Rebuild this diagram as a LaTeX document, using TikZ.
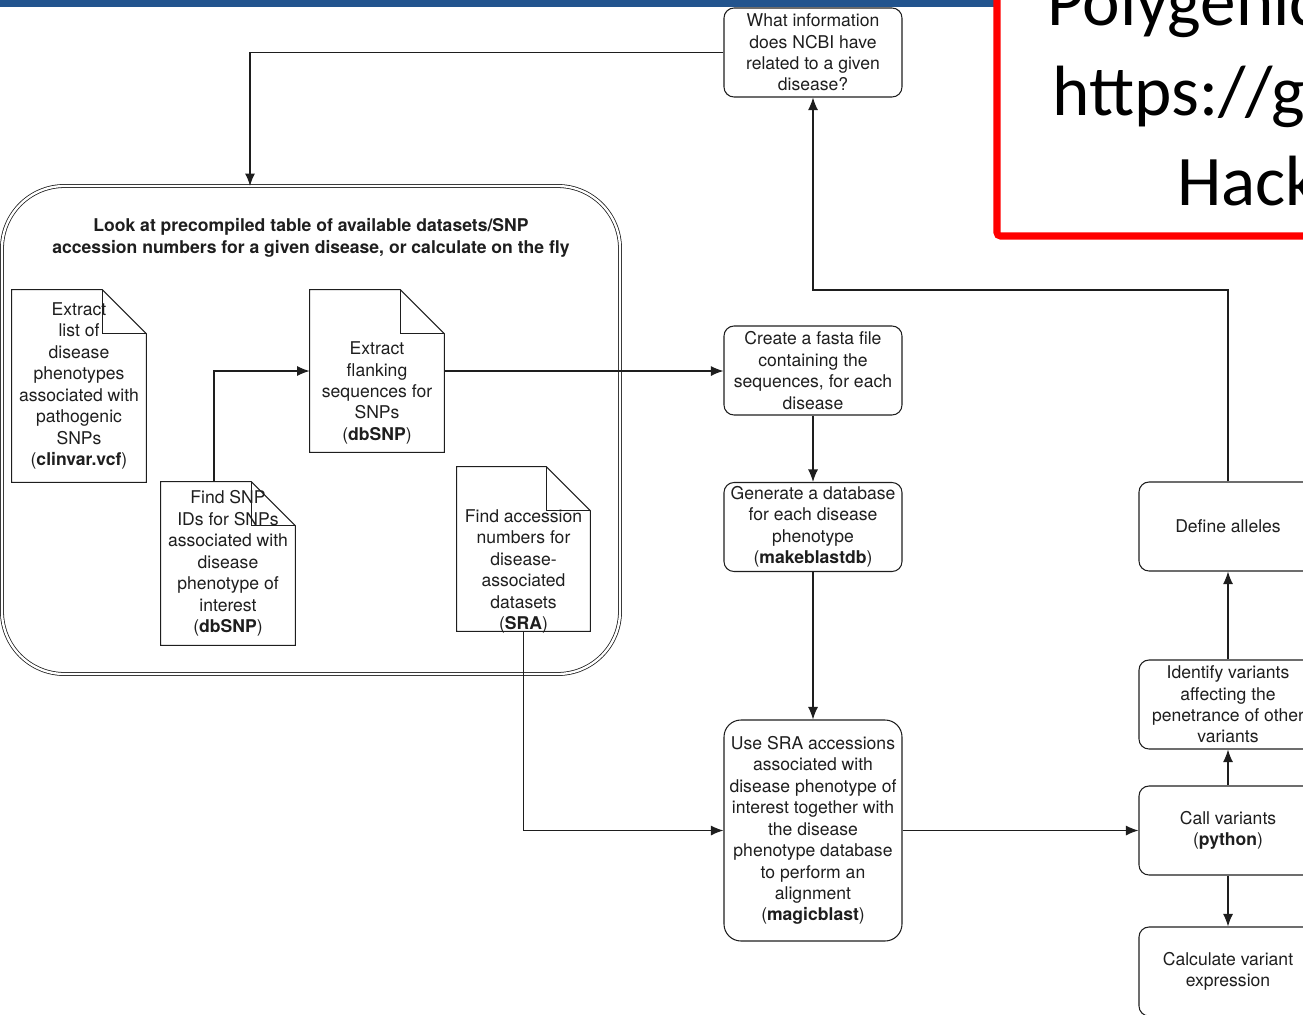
\documentclass[tikz,border=0pt]{standalone}
\usepackage{fontspec}
\setmainfont{TeX Gyre Heros}
\newfontfamily\slidefont{Carlito}
\usepackage{tikz}
\usetikzlibrary{arrows.meta,positioning}
\usepackage{xcolor}
\definecolor{slideblue}{RGB}{34,84,142}
\definecolor{ink}{RGB}{30,30,30}

\tikzset{
  flowbox/.style={draw=ink, line width=0.6pt, rounded corners=0.2cm, minimum width=3.56cm, minimum height=1.78cm,
    inner sep=0pt, align=center, text=ink, font=\fontsize{10}{12.2}\selectfont},
  docbox/.style={inner sep=0pt, minimum width=2.68cm},
  doctext/.style={inner sep=0pt, align=center, text=ink, font=\fontsize{10}{12.2}\selectfont},
  groupbox/.style={draw=ink, double, double distance=1.3pt, line width=0.45pt, rounded corners=1.25cm,
    minimum width=12.36cm, minimum height=9.76cm},
  link/.style={draw=ink, line width=0.7pt, -{Latex[length=2.5mm,width=2mm]}},
  slidetext/.style={inner sep=0pt, anchor=base west, font=\slidefont\fontsize{40.5}{48}\selectfont}
}

% outline of a page with a folded corner round a node
\newcommand\foldframe[1]{%
  \draw[ink, line width=0.6pt] (#1.north west) -- ([xshift=-0.88cm]#1.north east) -- ([yshift=-0.88cm]#1.north east)
    -- (#1.south east) -- (#1.south west) -- cycle;
  \draw[ink, line width=0.6pt] ([xshift=-0.88cm]#1.north east) |- ([yshift=-0.88cm]#1.north east);}

\begin{document}
\begin{tikzpicture}[x=0.2mm, y=-0.2mm]
\useasboundingbox (0,0) rectangle (1303,1014);
\clip (0,0) rectangle (1303,1014);

% slide parts
\fill[slideblue] (0,0) rectangle (995,7);
\draw[red, line width=4pt, rounded corners=2pt] (997,-20) rectangle (1400,236);
\node[slidetext] (slide1) at (1047,25) {Polygenic};
\node[slidetext] (slide2) at (1052,115) {https://g};
\node[slidetext] (slide3) at (1177,205) {Hack};

% group of lookups
\node[groupbox] (grp) at (311,430) {};
\node[doctext, font=\bfseries\fontsize{10}{12.2}\selectfont] (grptitle) at (311,238)
  {Look at precompiled table of available datasets/SNP\\accession numbers for a given disease, or calculate on the fly};

\node[docbox, minimum height=3.84cm, doctext] (clinvar) at (79,386)
  {Extract\\list of\\disease\\phenotypes\\associated with\\pathogenic\\SNPs\\(\textbf{clinvar.vcf})};
\node[docbox, minimum height=3.24cm] (flank) at (377,371) {};
\node[doctext] (flanktext) at ([yshift=-0.44cm]flank.center)
  {Extract\\flanking\\sequences for\\SNPs\\(\textbf{dbSNP})};
\node[docbox, minimum height=3.26cm, doctext] (findsnp) at (228,563.5)
  {Find SNP\\IDs for SNPs\\associated with\\disease\\phenotype of\\interest\\(\textbf{dbSNP})};
\node[docbox, minimum height=3.28cm, minimum width=2.66cm] (findacc) at (523.5,549) {};
\node[doctext] (findacctext) at ([yshift=-0.45cm]findacc.center)
  {Find accession\\numbers for\\disease-\\associated\\datasets\\(\textbf{SRA})};
\foldframe{clinvar}
\foldframe{flank}
\foldframe{findsnp}
\foldframe{findacc}

% main column
\node[flowbox] (ncbi) at (813,52.5) {What information\\does NCBI have\\related to a given\\disease?};
\node[flowbox] (fasta) at (813,370.5) {Create a fasta file\\containing the\\sequences, for each\\disease};
\node[flowbox] (makedb) at (813,527) {Generate a database\\for each disease\\phenotype\\(\textbf{makeblastdb})};
\node[flowbox, minimum height=4.42cm, rounded corners=0.34cm] (magic) at (813,830.5)
  {Use SRA accessions\\associated with\\disease phenotype of\\interest together with\\the disease\\phenotype database\\to perform an\\alignment\\(\textbf{magicblast})};

% right column
\node[flowbox] (alleles) at (1228,526.5) {Define alleles};
\node[flowbox] (identify) at (1228,704.5) {Identify variants\\affecting the\\penetrance of other\\variants};
\node[flowbox] (callvar) at (1228,830.5) {Call variants\\(\textbf{python})};
\node[flowbox] (calcexpr) at (1228,971.5) {Calculate variant\\expression};

% connectors
\coordinate (grpin) at (250,186);
\coordinate (loop) at (1228,290);
\draw[link] (ncbi.west) -| (grpin);
\draw[link] ([xshift=-0.28cm]findsnp.north) |- (flank.west);
\draw[link] (flank.east) -- (flank.east -| fasta.west);
\draw[link] (fasta) -- (makedb);
\draw[link] (makedb) -- (magic);
\draw[link] (findacc.south) |- (magic.west);
\draw[link] (magic.east) -- (callvar.west);
\draw[link] (callvar) -- (identify);
\draw[link] (identify) -- (alleles);
\draw[link] (callvar) -- (calcexpr);
\draw[link] (alleles.north) -- (loop) -| (ncbi.south);
\end{tikzpicture}
\end{document}
